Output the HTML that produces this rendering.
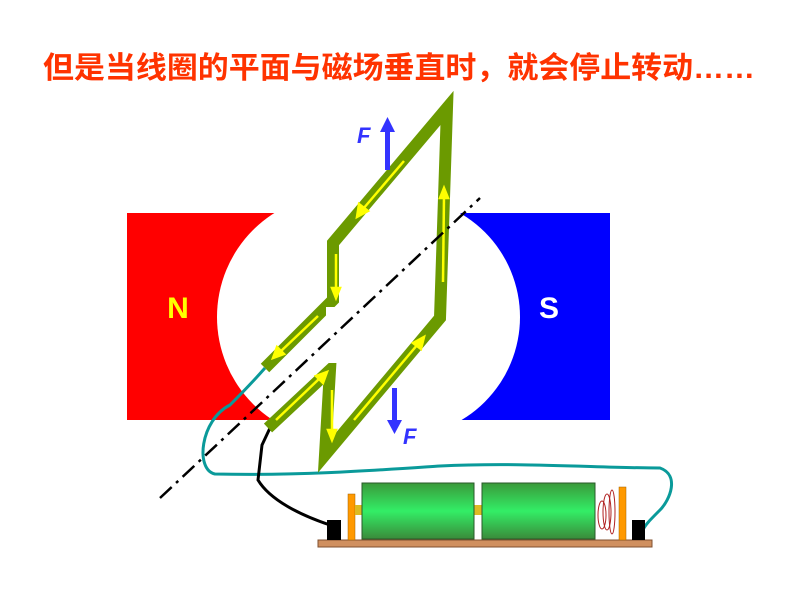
<!DOCTYPE html>
<html><head><style>body{margin:0;background:#fff;width:800px;height:600px;overflow:hidden}</style></head><body>
<svg width="800" height="600" xmlns="http://www.w3.org/2000/svg">
<defs><linearGradient id="g" x1="0" y1="0" x2="0" y2="1"><stop offset="0" stop-color="#3a9a3a"/><stop offset="0.5" stop-color="#33ee66"/><stop offset="1" stop-color="#3a8a3a"/></linearGradient></defs>
<text x="399" y="78" text-anchor="middle" font-family="Liberation Sans, Noto Sans CJK SC, sans-serif" font-size="30" font-weight="bold" fill="#ff3300" textLength="712" lengthAdjust="spacingAndGlyphs">但是当线圈的平面与磁场垂直时，就会停止转动……</text>
<rect x="127" y="213" width="148" height="207" fill="#ff0000"/>
<circle cx="340" cy="317" r="123" fill="#fff"/>
<rect x="460" y="213" width="150" height="207" fill="#0000ff"/>
<circle cx="400" cy="317" r="120" fill="#fff"/>
<text x="178" y="318" text-anchor="middle" font-family="Liberation Sans" font-weight="bold" font-size="30" fill="#ffff00">N</text>
<text x="549" y="318" text-anchor="middle" font-family="Liberation Sans" font-weight="bold" font-size="30" fill="#fff">S</text>
<path d="M265,368 C250,385 240,395 230,405 C200,420 195,470 215,474 C300,476 380,470 440,466 C520,462 600,468 660,468 C680,475 670,500 660,510 C650,520 645,525 643,530" fill="none" stroke="#0a9a9a" stroke-width="3"/>
<path d="M270,428 L262,445 L258,480 C270,500 300,515 330,525" fill="none" stroke="#000" stroke-width="3"/>
<polyline points="268,428 330,370 325,455 440,318 447,108 333,243 333,300 265,368" fill="none" stroke="#6b9a00" stroke-width="12" stroke-linejoin="miter"/>
<rect x="326" y="307" width="11" height="56" fill="#fff"/>
<g stroke="#ffff00" stroke-width="2.5" fill="#ffff00">
<line x1="404" y1="161" x2="363" y2="209"/><polygon points="357,217 359,204 368,211"/>
<line x1="336" y1="254" x2="336" y2="290"/><polygon points="336,298 332,288 340,288"/>
<line x1="318" y1="316" x2="280" y2="352"/><polygon points="273,358 277,347 284,354"/>
<line x1="276" y1="420" x2="320" y2="378"/><polygon points="327,372 323,383 316,376"/>
<line x1="332" y1="390" x2="332" y2="432"/><polygon points="332,440 328,430 336,430"/>
<line x1="354" y1="420" x2="418" y2="344"/><polygon points="424,337 421,349 413,343"/>
<line x1="443" y1="282" x2="444" y2="196"/><polygon points="444,188 448,198 440,198"/>
</g>
<line x1="160" y1="498" x2="480" y2="198" stroke="#000" stroke-width="2.5" stroke-dasharray="16,6,3,6"/>
<g fill="#3333ff"><rect x="385" y="130" width="5" height="40"/><polygon points="380,132 395,132 387.5,117"/>
<rect x="392" y="388" width="5" height="34"/><polygon points="387,420 402,420 394.5,434"/></g>
<text x="357" y="143" font-family="Liberation Sans" font-weight="bold" font-style="italic" font-size="22" fill="#3333ff">F</text>
<text x="403" y="444" font-family="Liberation Sans" font-weight="bold" font-style="italic" font-size="22" fill="#3333ff">F</text>
<rect x="318" y="540" width="334" height="7" fill="#d09060" stroke="#805030" stroke-width="1"/>
<rect x="327" y="520" width="14" height="20" fill="#000"/>
<rect x="632" y="520" width="13" height="20" fill="#000"/>
<rect x="348" y="494" width="7" height="46" fill="#ff9900" stroke="#a06000" stroke-width="0.5"/>
<rect x="619" y="487" width="7" height="53" fill="#ff9900" stroke="#a06000" stroke-width="0.5"/>
<rect x="355" y="505" width="8" height="10" fill="#ddbb22"/>
<rect x="474" y="505" width="8" height="10" fill="#ddbb22"/>
<rect x="362" y="483" width="112" height="56" fill="url(#g)" stroke="#2a5a2a"/>
<rect x="482" y="483" width="113" height="56" fill="url(#g)" stroke="#2a5a2a"/>
<g fill="none" stroke="#b02020" stroke-width="1"><ellipse cx="602" cy="515" rx="4" ry="14"/><ellipse cx="607" cy="512" rx="4" ry="18"/><ellipse cx="612" cy="512" rx="3" ry="22"/></g>
</svg>
</body></html>
